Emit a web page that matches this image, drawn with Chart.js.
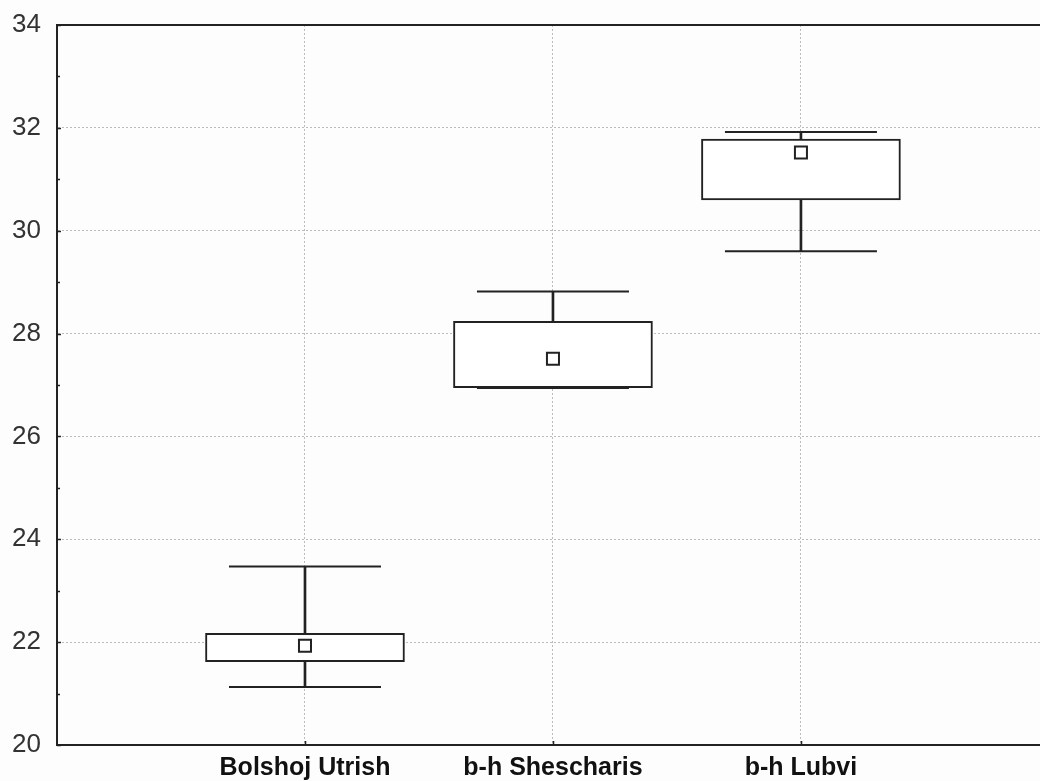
<!DOCTYPE html>
<html>
<head>
<meta charset="utf-8">
<title>Box plot</title>
<script src="https://cdn.jsdelivr.net/npm/chart.js@4/dist/chart.umd.min.js"></script>
<style>
    html, body { margin: 0; padding: 0; background: #fdfdfd; }
    #wrap { width: 1040px; height: 781px; position: relative; }
</style>
</head>
<body>
<div id="wrap"><canvas id="boxChart"></canvas></div>
<script>
// sites and their summary values
const categories = ['Bolshoj Utrish', 'b-h Shescharis', 'b-h Lubvi'];
const means = [21.93, 27.51, 31.52];
const boxLow = [21.62, 26.95, 30.60];
const boxHigh = [22.17, 28.24, 31.78];
const whiskerLow = [21.13, 26.94, 29.60];
const whiskerHigh = [23.47, 28.82, 31.92];
const yTicks = [20, 22, 24, 26, 28, 30, 32, 34];

const ink = '#222';

// site i sits at x = i + 1 on a linear axis
const at = (arr) => arr.map((v, i) => ({ x: i + 1, y: v }));
const range = (lo, hi) => lo.map((v, i) => ({ x: i + 1, y: [v, hi[i]] }));

// small inward tick marks on the left and bottom axes, plus the top frame line
const frame = {
    id: 'frame',
    afterDraw(chart) {
        const { ctx, chartArea: a, scales: { x, y } } = chart;
        ctx.save();
        ctx.strokeStyle = ink;
        ctx.lineWidth = 1.5;
        ctx.beginPath();
        for (let v = y.min; v <= y.max; v++) {
            const py = Math.round(y.getPixelForValue(v)) + 0.5;
            ctx.moveTo(a.left, py);
            ctx.lineTo(a.left + (v % 2 === 0 ? 4 : 3), py);
        }
        [1, 2, 3].forEach(v => {
            const px = Math.round(x.getPixelForValue(v)) + 0.5;
            ctx.moveTo(px, a.bottom);
            ctx.lineTo(px, a.bottom - 4);
        });
        ctx.stroke();
        ctx.lineWidth = 2;
        ctx.beginPath();
        ctx.moveTo(a.left, a.top);
        ctx.lineTo(a.right, a.top);
        ctx.stroke();
        ctx.restore();
    }
};

const ctx = document.getElementById('boxChart').getContext('2d');
new Chart(ctx, {
    type: 'bar',
    data: {
        datasets: [{
            type: 'scatter',
            label: 'Mean',
            data: at(means),
            pointStyle: 'rect',
            radius: 8.5,
            borderWidth: 2,
            borderColor: ink,
            backgroundColor: '#ffffff',
            order: 0
        }, {
            label: 'Box',
            data: range(boxLow, boxHigh),
            barThickness: 199,
            grouped: false,
            borderSkipped: false,
            borderWidth: 2,
            borderColor: ink,
            backgroundColor: '#ffffff',
            order: 1
        }, {
            label: 'Whisker',
            data: range(whiskerLow, whiskerHigh),
            barThickness: 2,
            grouped: false,
            borderWidth: 0,
            backgroundColor: ink,
            order: 2
        }, {
            type: 'scatter',
            label: 'Caps',
            data: at(whiskerLow).concat(at(whiskerHigh)),
            pointStyle: 'line',
            radius: 76,
            borderWidth: 2,
            borderColor: ink,
            order: 3
        }]
    },
    options: {
        responsive: true,
        maintainAspectRatio: false,
        animation: false,
        layout: { autoPadding: false, padding: { top: 25, right: 0, left: 0, bottom: 0 } },
        plugins: {
            legend: { display: false },
            tooltip: { enabled: false }
        },
        scales: {
            x: {
                type: 'linear',
                min: 0,
                max: 3.964,
                offset: false,
                afterBuildTicks: (s) => { s.ticks = [1, 2, 3].map(v => ({ value: v })); },
                afterFit: (s) => { s.height = 36; s.paddingLeft = 0; s.paddingRight = 0; },
                border: { display: true, color: ink, width: 2, dash: [2, 2] },
                grid: { color: '#bcbcbc', lineWidth: 1, drawTicks: false, offset: false },
                ticks: {
                    padding: 8,
                    color: '#111',
                    font: { family: 'Arial, "Liberation Sans", sans-serif', size: 25, weight: 'bold' },
                    maxRotation: 0,
                    autoSkip: false,
                    callback: (v) => categories[v - 1] || ''
                }
            },
            y: {
                min: 20,
                max: 34,
                afterBuildTicks: (s) => { s.ticks = yTicks.map(v => ({ value: v })); },
                afterFit: (s) => { s.width = 57; s.paddingTop = 0; s.paddingBottom = 0; },
                border: { display: true, color: ink, width: 2, dash: [2, 2] },
                grid: {
                    color: (c) => (c.tick && (c.tick.value === 20 || c.tick.value === 34)) ? 'transparent' : '#bcbcbc',
                    lineWidth: 1,
                    drawTicks: false
                },
                ticks: {
                    padding: 16,
                    color: '#333',
                    font: { family: 'Arial, "Liberation Sans", sans-serif', size: 26 }
                }
            }
        }
    },
    plugins: [frame]
});
</script>
</body>
</html>
